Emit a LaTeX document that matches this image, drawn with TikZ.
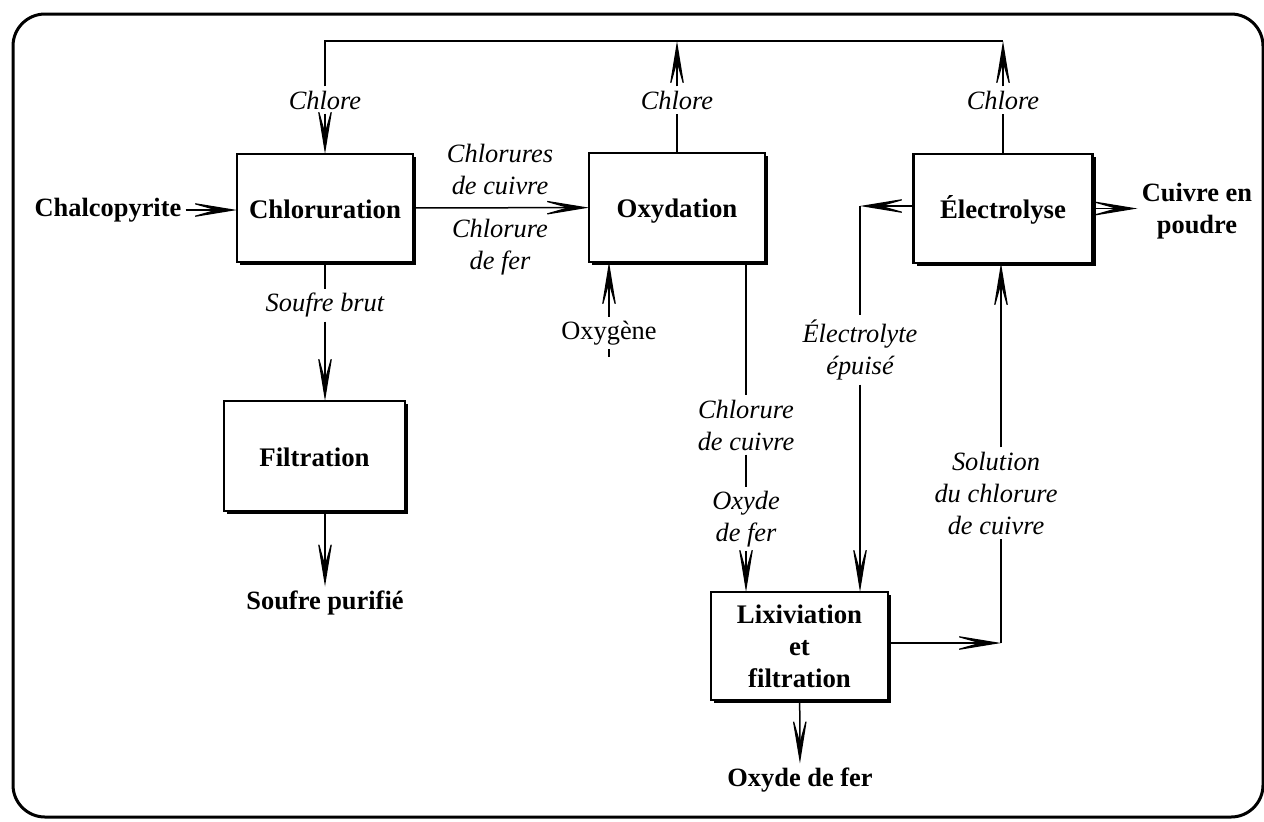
\documentclass[tikz,border=0pt]{standalone}
\usepackage{fontspec}
\setmainfont{Liberation Serif}
\usetikzlibrary{arrows.meta,shadows}
\begin{document}
\begin{tikzpicture}[x=0.5pt,y=-0.5pt,
  every node/.style={font=\fontsize{13.2}{16}\selectfont},
  box/.style={draw, line width=1.2pt, fill=white, inner sep=0pt, outer sep=0pt, align=center,
    font=\fontsize{13.4}{16}\selectfont\bfseries,
    drop shadow={shadow xshift=1.6pt, shadow yshift=-1.6pt, fill=black, opacity=1}},
  onel/.style={text height=11pt, text depth=1pt},
  lbl/.style={inner sep=2pt, align=center, font=\fontsize{13.2}{16}\selectfont\itshape},
  prod/.style={inner sep=2pt, align=center, font=\fontsize{13.2}{16}\selectfont\bfseries},
  conn/.style={line width=0.75pt},
  arr/.style={conn, -{Stealth[length=26pt,width=8.5pt,inset=15pt,line width=0.6pt]}},
]
\useasboundingbox (0,0) rectangle (1264,821);
\draw[line width=1.5pt, rounded corners=16pt] (13,14) rectangle (1263,817);

% process boxes
\node[box, onel, minimum width=88pt, minimum height=54pt] (chl) at (325,208) {Chloruration};
\node[box, onel, minimum width=88pt, minimum height=54.5pt] (oxy) at (677,207.5) {Oxydation};
\node[box, onel, minimum width=89.5pt, minimum height=54.5pt] (ele) at (1003,208.5) {Électrolyse};
\node[box, onel, minimum width=90.5pt, minimum height=55pt] (fil) at (314.5,456) {Filtration};
\node[box, minimum width=88.5pt, minimum height=54pt] (lix) at (799.5,646) {Lixiviation\\et\\filtration};

% labels
\node[prod] (chalco) at (108,210) {Chalcopyrite};
\node[lbl] (c1) at (325,100) {Chlore};
\node[lbl] (c2) at (677,100) {Chlore};
\node[lbl] (c3) at (1003,100) {Chlore};
\node[lbl] (cdc) at (500,169) {Chlorures\\de cuivre};
\node[lbl] (cdf) at (500,247) {Chlorure\\de fer};
\node[lbl] (sb) at (325,305) {Soufre brut};
\node[prod] (sp) at (325,603) {Soufre purifié};
\node[inner sep=2pt] (oxg) at (609,333) {Oxygène};
\node[lbl] (ccu) at (746,425) {Chlorure\\de cuivre};
\node[lbl] (odf) at (746,519) {Oxyde\\de fer};
\node[lbl] (ee) at (860,350) {Électrolyte\\épuisé};
\node[lbl] (sol) at (996,493) {Solution\\du chlorure\\de cuivre};
\node[prod] (cep) at (1197,211) {Cuivre en\\poudre};
\node[prod] (odf2) at (800,780) {Oxyde de fer};

% coordinates
\coordinate (bL) at (325,41);
\coordinate (bM) at (677,41);
\coordinate (bR) at (1003,41);
\coordinate (oxs) at (609,357);
\coordinate (cE) at (860,206);
\coordinate (cS) at (1001,643);

% chlorine loop
\draw[conn] (c1) -- (bL) -- (bR);
\draw[arr] (c1) -- (chl);
\draw[conn] (oxy) -- (c2);
\draw[arr] (c2) -- (bM);
\draw[conn] (ele) -- (c3);
\draw[arr] (c3) -- (bR);

% main flow
\draw[arr] (chalco) -- (chalco -| chl.west);
\draw[arr] (chl) -- (oxy);
\draw[conn] (chl) -- (sb);
\draw[arr] (sb) -- (sb |- fil.north);
\draw[arr] (sp |- fil.south) -- (sp);
\draw[conn] (oxs) -- (oxg);
\draw[arr] (oxg) -- (oxg |- oxy.south);
\draw[conn] (oxy.south -| ccu) -- (ccu);
\draw[conn] (ccu) -- (odf);
\draw[arr] (odf) -- (odf |- lix.north);
\draw[arr] (ele.west |- cE) -- (cE);
\draw[conn] (cE) -- (ee);
\draw[arr] (ee) -- (ee |- lix.north);
\draw[arr] (lix.east |- cS) -- (cS);
\draw[conn] (cS) -- (cS |- sol.south);
\draw[arr] (sol.north -| cS) -- (cS |- ele.south);
\draw[arr] (ele) -- (ele.east -| cep.west);
\draw[arr] (lix) -- (odf2);
\end{tikzpicture}
\end{document}
